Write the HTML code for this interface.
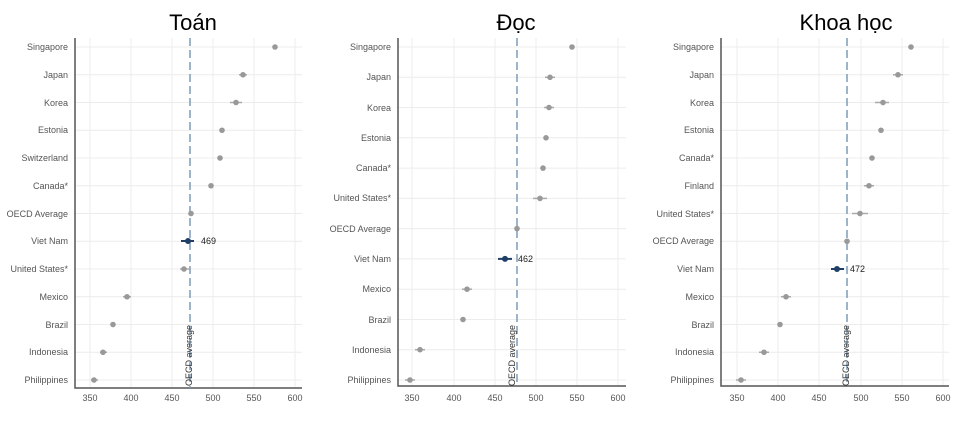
<!DOCTYPE html>
<html><head><meta charset="utf-8"><style>
body{margin:0;background:#fff}
svg{display:block}
.lb{font:9px "Liberation Sans",sans-serif;fill:#555;text-anchor:end}
.tk{font:9px "Liberation Sans",sans-serif;fill:#555;text-anchor:middle}
.tt{font:22px "Liberation Sans","DejaVu Sans",sans-serif;fill:#000;text-anchor:middle}
.g{stroke:#ececec;stroke-width:1}
.ax{stroke:#555;stroke-width:1.5;fill:none}
.dl{stroke:#7f9bb8;stroke-width:1.5;stroke-dasharray:8,4}
.e{stroke:#aaa;stroke-width:1.5}
.d{fill:#999}
.v{font:9px "Liberation Sans",sans-serif;fill:#222}
.oa{font:9px "Liberation Sans",sans-serif;fill:#333}
</style></head><body>
<svg width="967" height="421" viewBox="0 0 967 421">
<!-- Panel 1 -->
<text class="tt" x="193" y="30">Toán</text>
<g class="g">
<line x1="90" y1="38" x2="90" y2="388"/><line x1="131" y1="38" x2="131" y2="388"/><line x1="172" y1="38" x2="172" y2="388"/><line x1="213" y1="38" x2="213" y2="388"/><line x1="254" y1="38" x2="254" y2="388"/><line x1="295" y1="38" x2="295" y2="388"/>
<line x1="75" y1="47" x2="302" y2="47"/><line x1="75" y1="74.75" x2="302" y2="74.75"/><line x1="75" y1="102.5" x2="302" y2="102.5"/><line x1="75" y1="130.25" x2="302" y2="130.25"/><line x1="75" y1="158" x2="302" y2="158"/><line x1="75" y1="185.75" x2="302" y2="185.75"/><line x1="75" y1="213.5" x2="302" y2="213.5"/><line x1="75" y1="241.25" x2="302" y2="241.25"/><line x1="75" y1="269" x2="302" y2="269"/><line x1="75" y1="296.75" x2="302" y2="296.75"/><line x1="75" y1="324.5" x2="302" y2="324.5"/><line x1="75" y1="352.25" x2="302" y2="352.25"/><line x1="75" y1="380" x2="302" y2="380"/>
</g>
<path class="ax" d="M75,38 V388 H302"/>
<line class="dl" x1="190" y1="38" x2="190" y2="388"/>
<g class="lb">
<text x="68" y="50">Singapore</text><text x="68" y="78">Japan</text><text x="68" y="106">Korea</text><text x="68" y="133">Estonia</text><text x="68" y="161">Switzerland</text><text x="68" y="189">Canada*</text><text x="68" y="217">OECD Average</text><text x="68" y="244">Viet Nam</text><text x="68" y="272">United States*</text><text x="68" y="300">Mexico</text><text x="68" y="328">Brazil</text><text x="68" y="355">Indonesia</text><text x="68" y="383">Philippines</text>
</g>
<g class="e">
<line x1="239" y1="74.75" x2="247" y2="74.75"/><line x1="230" y1="102.5" x2="242" y2="102.5"/><line x1="180" y1="269" x2="191" y2="269"/><line x1="91" y1="380" x2="98" y2="380"/><line x1="123" y1="296.75" x2="131" y2="296.75"/><line x1="100" y1="352.25" x2="107" y2="352.25"/>
</g>
<g class="d">
<circle cx="275" cy="47" r="2.8"/><circle cx="243" cy="74.75" r="2.8"/><circle cx="236" cy="102.5" r="2.8"/><circle cx="222" cy="130.25" r="2.8"/><circle cx="220" cy="158" r="2.8"/><circle cx="211" cy="185.75" r="2.8"/><circle cx="191" cy="213.5" r="2.8"/><circle cx="184" cy="269" r="2.8"/><circle cx="127" cy="296.75" r="2.8"/><circle cx="113" cy="324.5" r="2.8"/><circle cx="103" cy="352.25" r="2.8"/><circle cx="94" cy="380" r="2.8"/>
</g>
<line x1="181" y1="241" x2="194" y2="241" stroke="#1f3f66" stroke-width="2"/>
<circle cx="188" cy="241" r="3" fill="#1f3f66"/>
<text class="v" x="201" y="244">469</text>
<text class="oa" transform="translate(192,386) rotate(-90)">OECD average</text>
<g class="tk"><text x="90" y="401">350</text><text x="131" y="401">400</text><text x="172" y="401">450</text><text x="213" y="401">500</text><text x="254" y="401">550</text><text x="295" y="401">600</text></g>

<!-- Panel 2 -->
<text class="tt" x="516" y="30">Đọc</text>
<g class="g">
<line x1="412" y1="38" x2="412" y2="386"/><line x1="454" y1="38" x2="454" y2="386"/><line x1="495" y1="38" x2="495" y2="386"/><line x1="536" y1="38" x2="536" y2="386"/><line x1="577" y1="38" x2="577" y2="386"/><line x1="618" y1="38" x2="618" y2="386"/>
<line x1="398" y1="47" x2="626" y2="47"/><line x1="398" y1="77.3" x2="626" y2="77.3"/><line x1="398" y1="107.5" x2="626" y2="107.5"/><line x1="398" y1="137.8" x2="626" y2="137.8"/><line x1="398" y1="168.1" x2="626" y2="168.1"/><line x1="398" y1="198.4" x2="626" y2="198.4"/><line x1="398" y1="228.6" x2="626" y2="228.6"/><line x1="398" y1="258.9" x2="626" y2="258.9"/><line x1="398" y1="289.2" x2="626" y2="289.2"/><line x1="398" y1="319.5" x2="626" y2="319.5"/><line x1="398" y1="349.7" x2="626" y2="349.7"/><line x1="398" y1="380" x2="626" y2="380"/>
</g>
<path class="ax" d="M398,38 V386 H626"/>
<line class="dl" x1="517" y1="38" x2="517" y2="386"/>
<g class="lb">
<text x="391" y="50">Singapore</text><text x="391" y="80">Japan</text><text x="391" y="111">Korea</text><text x="391" y="141">Estonia</text><text x="391" y="171">Canada*</text><text x="391" y="201">United States*</text><text x="391" y="232">OECD Average</text><text x="391" y="262">Viet Nam</text><text x="391" y="292">Mexico</text><text x="391" y="323">Brazil</text><text x="391" y="353">Indonesia</text><text x="391" y="383">Philippines</text>
</g>
<g class="e">
<line x1="545" y1="77.3" x2="555" y2="77.3"/><line x1="544" y1="107.5" x2="554" y2="107.5"/><line x1="533" y1="198.4" x2="547" y2="198.4"/><line x1="462" y1="289.2" x2="472" y2="289.2"/><line x1="415" y1="349.7" x2="425" y2="349.7"/><line x1="405" y1="380" x2="415" y2="380"/>
</g>
<g class="d">
<circle cx="572" cy="47" r="2.8"/><circle cx="550" cy="77.3" r="2.8"/><circle cx="549" cy="107.5" r="2.8"/><circle cx="546" cy="137.8" r="2.8"/><circle cx="543" cy="168.1" r="2.8"/><circle cx="540" cy="198.4" r="2.8"/><circle cx="517" cy="228.6" r="2.8"/><circle cx="467" cy="289.2" r="2.8"/><circle cx="463" cy="319.5" r="2.8"/><circle cx="420" cy="349.7" r="2.8"/><circle cx="410" cy="380" r="2.8"/>
</g>
<line x1="498" y1="258.9" x2="512" y2="258.9" stroke="#1f3f66" stroke-width="2"/>
<circle cx="505" cy="258.9" r="3" fill="#1f3f66"/>
<text class="v" x="518" y="262">462</text>
<text class="oa" transform="translate(515,386) rotate(-90)">OECD average</text>
<g class="tk"><text x="412" y="401">350</text><text x="454" y="401">400</text><text x="495" y="401">450</text><text x="536" y="401">500</text><text x="577" y="401">550</text><text x="618" y="401">600</text></g>

<!-- Panel 3 -->
<text class="tt" x="846" y="30">Khoa học</text>
<g class="g">
<line x1="737" y1="38" x2="737" y2="386"/><line x1="778" y1="38" x2="778" y2="386"/><line x1="819" y1="38" x2="819" y2="386"/><line x1="861" y1="38" x2="861" y2="386"/><line x1="902" y1="38" x2="902" y2="386"/><line x1="943" y1="38" x2="943" y2="386"/>
<line x1="721" y1="47" x2="949" y2="47"/><line x1="721" y1="74.75" x2="949" y2="74.75"/><line x1="721" y1="102.5" x2="949" y2="102.5"/><line x1="721" y1="130.25" x2="949" y2="130.25"/><line x1="721" y1="158" x2="949" y2="158"/><line x1="721" y1="185.75" x2="949" y2="185.75"/><line x1="721" y1="213.5" x2="949" y2="213.5"/><line x1="721" y1="241.25" x2="949" y2="241.25"/><line x1="721" y1="269" x2="949" y2="269"/><line x1="721" y1="296.75" x2="949" y2="296.75"/><line x1="721" y1="324.5" x2="949" y2="324.5"/><line x1="721" y1="352.25" x2="949" y2="352.25"/><line x1="721" y1="380" x2="949" y2="380"/>
</g>
<path class="ax" d="M721,38 V386 H949"/>
<line class="dl" x1="847" y1="38" x2="847" y2="386"/>
<g class="lb">
<text x="714" y="50">Singapore</text><text x="714" y="78">Japan</text><text x="714" y="106">Korea</text><text x="714" y="133">Estonia</text><text x="714" y="161">Canada*</text><text x="714" y="189">Finland</text><text x="714" y="217">United States*</text><text x="714" y="244">OECD Average</text><text x="714" y="272">Viet Nam</text><text x="714" y="300">Mexico</text><text x="714" y="328">Brazil</text><text x="714" y="355">Indonesia</text><text x="714" y="383">Philippines</text>
</g>
<g class="e">
<line x1="893" y1="74.75" x2="903" y2="74.75"/><line x1="875" y1="102.5" x2="889" y2="102.5"/><line x1="864" y1="185.75" x2="874" y2="185.75"/><line x1="852" y1="213.5" x2="868" y2="213.5"/><line x1="781" y1="296.75" x2="791" y2="296.75"/><line x1="759" y1="352.25" x2="769" y2="352.25"/><line x1="736" y1="380" x2="746" y2="380"/>
</g>
<g class="d">
<circle cx="911" cy="47" r="2.8"/><circle cx="898" cy="74.75" r="2.8"/><circle cx="883" cy="102.5" r="2.8"/><circle cx="881" cy="130.25" r="2.8"/><circle cx="872" cy="158" r="2.8"/><circle cx="869" cy="185.75" r="2.8"/><circle cx="860" cy="213.5" r="2.8"/><circle cx="847" cy="241.25" r="2.8"/><circle cx="786" cy="296.75" r="2.8"/><circle cx="780" cy="324.5" r="2.8"/><circle cx="764" cy="352.25" r="2.8"/><circle cx="741" cy="380" r="2.8"/>
</g>
<line x1="831" y1="269" x2="844" y2="269" stroke="#1f3f66" stroke-width="2"/>
<circle cx="837" cy="269" r="3" fill="#1f3f66"/>
<text class="v" x="850" y="272">472</text>
<text class="oa" transform="translate(849,386) rotate(-90)">OECD average</text>
<g class="tk"><text x="737" y="401">350</text><text x="778" y="401">400</text><text x="819" y="401">450</text><text x="861" y="401">500</text><text x="902" y="401">550</text><text x="943" y="401">600</text></g>
</svg>
</body></html>
